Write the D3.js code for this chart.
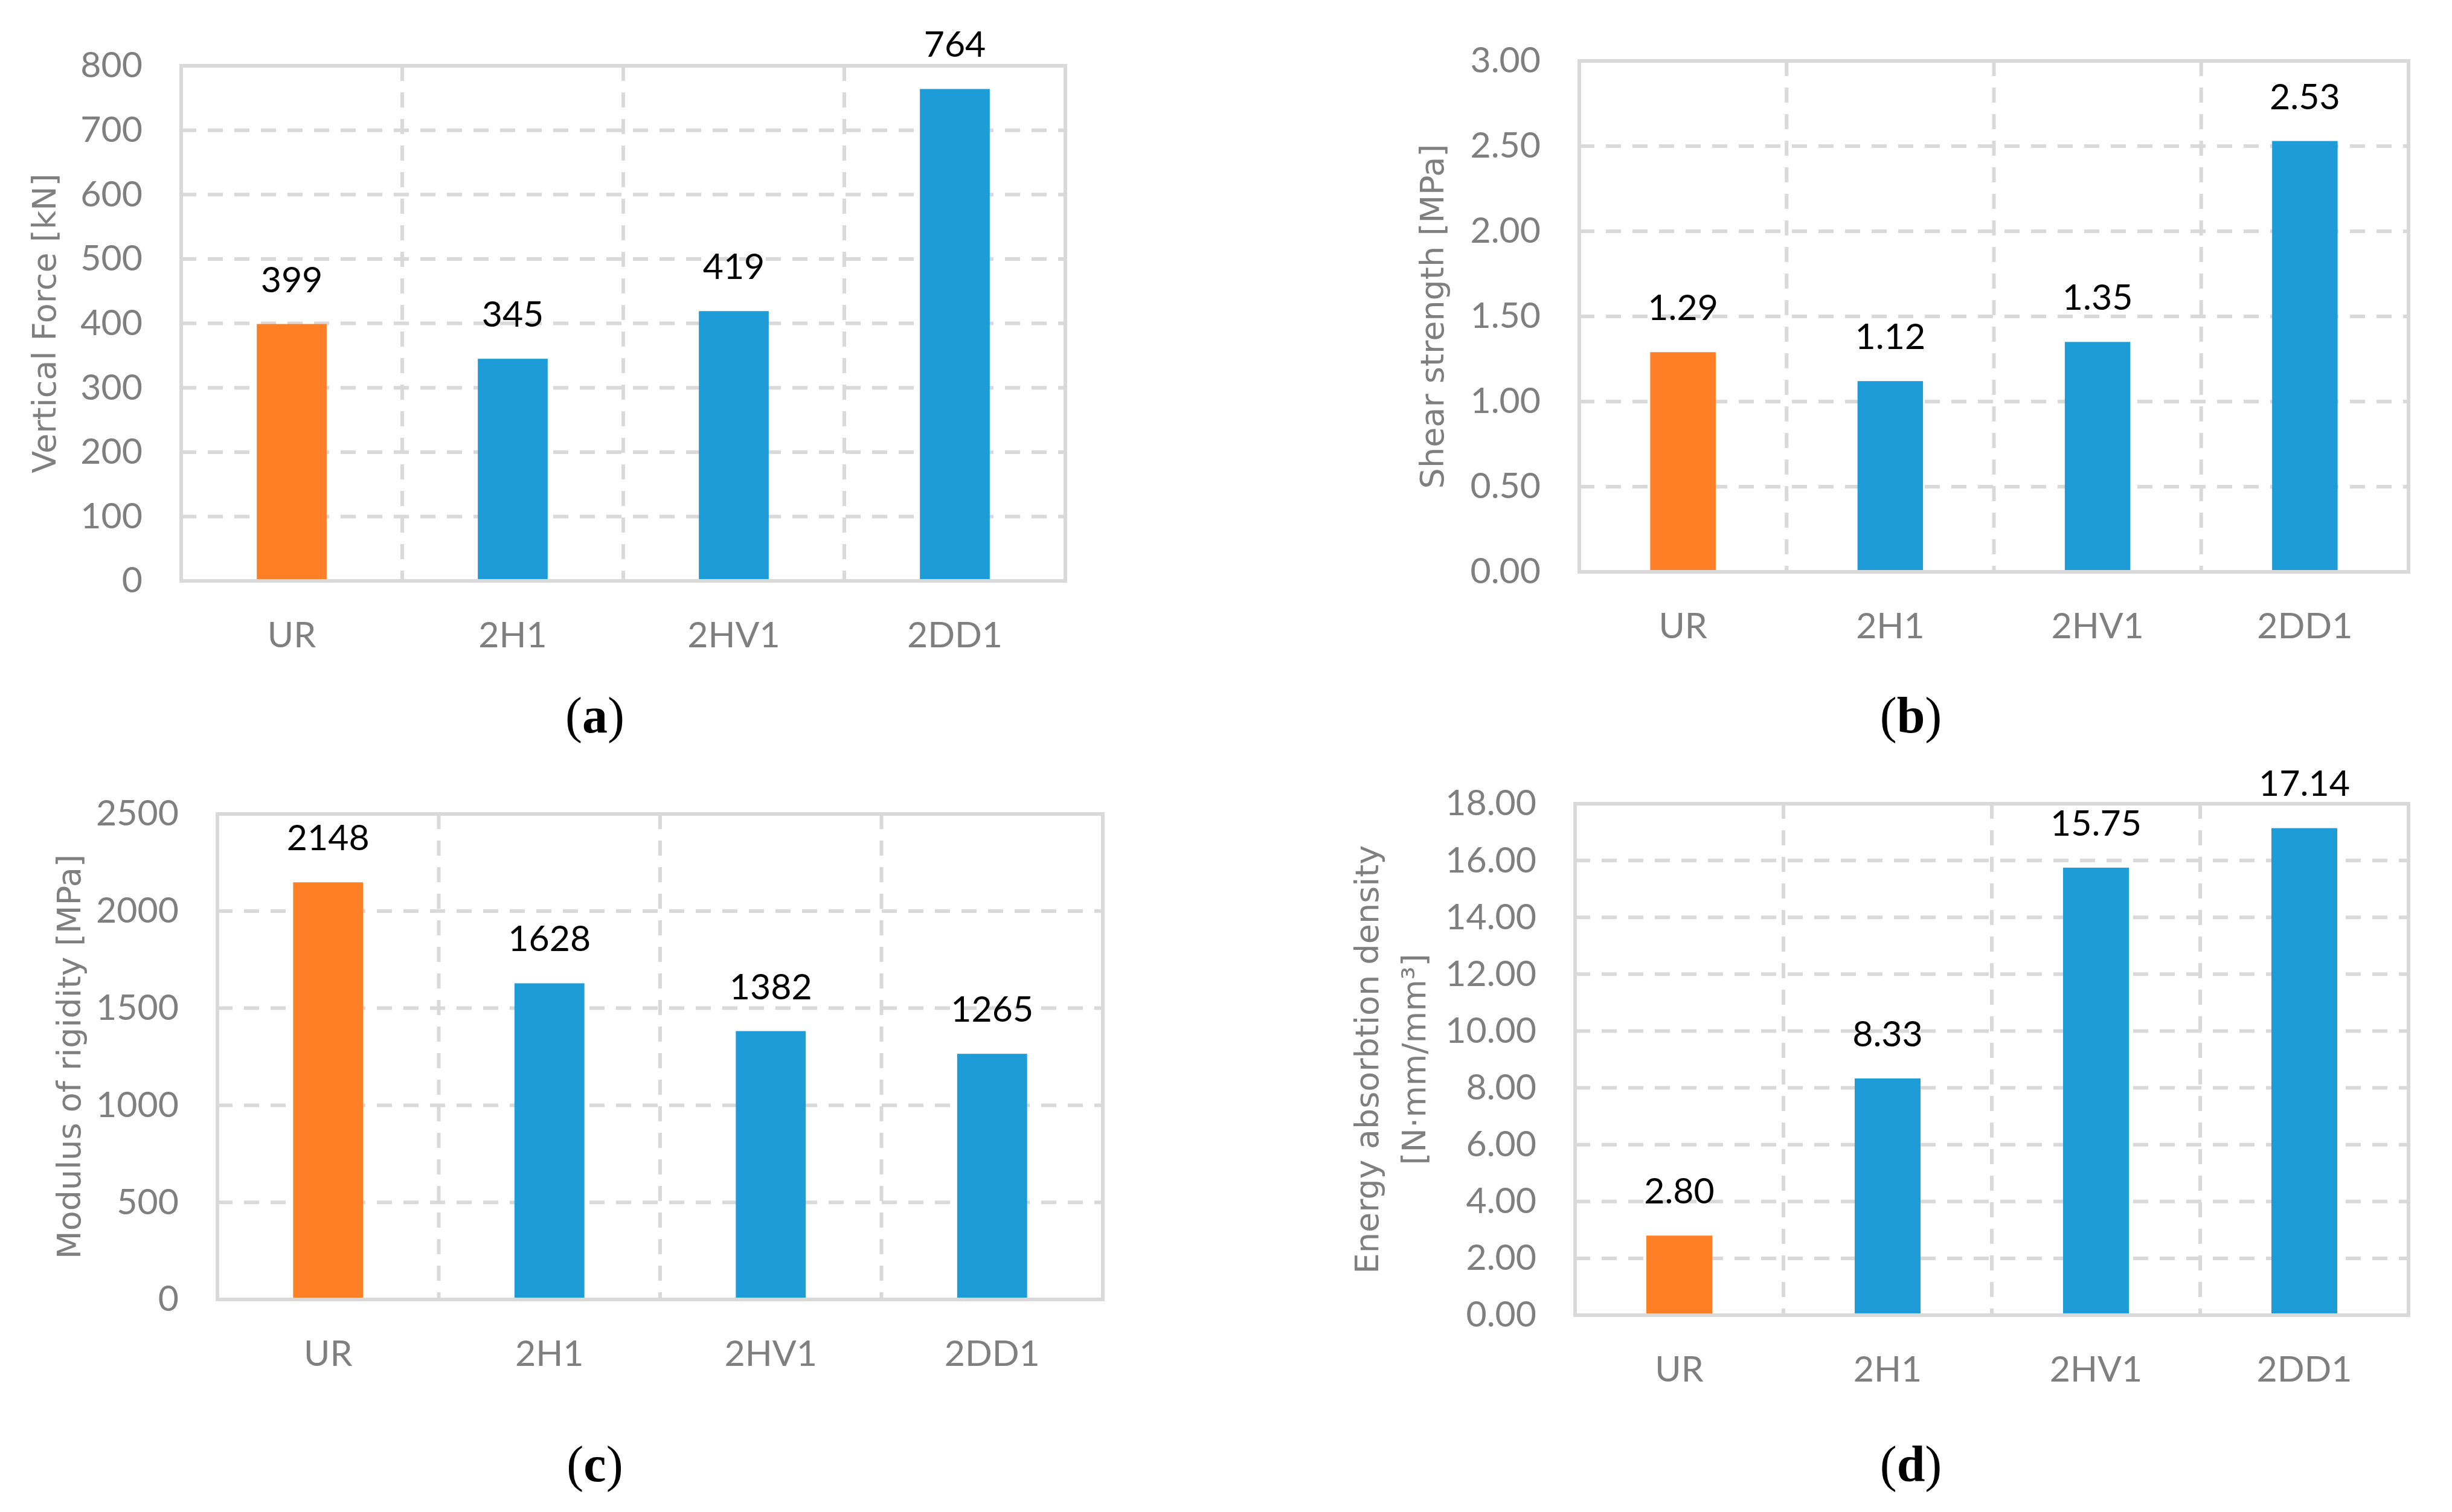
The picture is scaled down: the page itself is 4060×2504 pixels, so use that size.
<!DOCTYPE html>
<html><head><meta charset="utf-8">
<script src="https://cdn.jsdelivr.net/npm/d3@7"></script>
<style>body{margin:0;background:#fff}</style>
</head><body>
<svg id="chart" width="4060" height="2504"></svg>
<script>
// ---- data ----
const categories = ["UR", "2H1", "2HV1", "2DD1"];
const verticalForce = [399, 345, 419, 764];
const shearStrength = [1.29, 1.12, 1.35, 2.53];
const modulusRigidity = [2148, 1628, 1382, 1265];
const energyDensity = [2.80, 8.33, 15.75, 17.14];
const ticksA = [0, 100, 200, 300, 400, 500, 600, 700, 800];
const ticksB = [0, 0.5, 1.0, 1.5, 2.0, 2.5, 3.0];
const ticksC = [0, 500, 1000, 1500, 2000, 2500];
const ticksD = [0, 2, 4, 6, 8, 10, 12, 14, 16, 18];
const titleA = ["Vertical Force [kN]"];
const titleB = ["Shear strength [MPa]"];
const titleC = ["Modulus of rigidity [MPa]"];
const titleD = ["Energy absorbtion density", "[N\u00B7mm/mm\u00B3]"];
const panelLetters = ["a", "b", "c", "d"];

// ---- style ----
const ORANGE = "#FF7F27", BLUE = "#1E9CD7", GRID = "#D9D9D9", TXT = "#7F7F7F";
const TICKFONT = "Lato, 'Open Sans', sans-serif";
const TITLEFONT = "'DejaVu Sans', Verdana, sans-serif";
const LABELFONT = "'Liberation Serif', 'DejaVu Serif', serif";

const svg = d3.select("#chart");
svg.append("rect").attr("width", 4060).attr("height", 2504).attr("fill", "#fff");

const panels = [
  {values: verticalForce, ticks: ticksA, title: titleA, fmt: d3.format("d"), letter: panelLetters[0],
   left: 300, right: 1764, top: 109, bottom: 962, titleX: [73], subX: 985, subY: 1213},
  {values: shearStrength, ticks: ticksB, title: titleB, fmt: d3.format(".2f"), letter: panelLetters[1],
   left: 2615, right: 3988, top: 101, bottom: 947, titleX: [2371], subX: 3164, subY: 1213},
  {values: modulusRigidity, ticks: ticksC, title: titleC, fmt: d3.format("d"), letter: panelLetters[2],
   left: 360, right: 1826, top: 1348, bottom: 2152, titleX: [114], subX: 985, subY: 2453},
  {values: energyDensity, ticks: ticksD, title: titleD, fmt: d3.format(".2f"), letter: panelLetters[3],
   left: 2608, right: 3988, top: 1331, bottom: 2178, titleX: [2263, 2341], subX: 3164, subY: 2453}
];

panels.forEach(p => {
  const g = svg.append("g");
  const x = d3.scaleBand().domain(categories).range([p.left, p.right]).padding(0);
  const xb = d3.scaleBand().domain(categories).range([p.left, p.right]).paddingInner(0.684).paddingOuter(0.342);
  const y = d3.scaleLinear().domain([p.ticks[0], p.ticks[p.ticks.length - 1]]).range([p.bottom, p.top]);

  // horizontal gridlines
  g.append("g").selectAll("line").data(p.ticks.slice(1)).join("line")
    .attr("x1", p.left).attr("x2", p.right)
    .attr("y1", d => y(d)).attr("y2", d => y(d))
    .attr("stroke", GRID).attr("stroke-width", 6).attr("stroke-dasharray", "25,19");
  // vertical gridlines
  g.append("g").selectAll("line").data(categories.slice(1)).join("line")
    .attr("x1", d => x(d)).attr("x2", d => x(d))
    .attr("y1", p.top).attr("y2", p.bottom)
    .attr("stroke", GRID).attr("stroke-width", 6).attr("stroke-dasharray", "25,19");

  // bars
  g.append("g").selectAll("rect").data(p.values).join("rect")
    .attr("x", (d, i) => xb(categories[i]))
    .attr("width", xb.bandwidth())
    .attr("y", d => y(d))
    .attr("height", d => y(p.ticks[0]) - y(d))
    .attr("fill", (d, i) => i === 0 ? ORANGE : BLUE);

  // border
  g.append("rect").attr("x", p.left).attr("y", p.top)
    .attr("width", p.right - p.left).attr("height", p.bottom - p.top)
    .attr("fill", "none").attr("stroke", GRID).attr("stroke-width", 6);

  // data labels
  g.append("g").selectAll("text").data(p.values).join("text")
    .attr("x", (d, i) => x(categories[i]) + x.bandwidth() / 2)
    .attr("y", d => y(d) - 53)
    .attr("text-anchor", "middle")
    .style("font-family", TICKFONT).style("font-size", "59px").attr("fill", "#000")
    .text(d => p.fmt(d));

  // y axis
  const ya = g.append("g").attr("transform", `translate(${p.left},0)`)
    .call(d3.axisLeft(y).tickValues(p.ticks).tickFormat(p.fmt).tickSize(0).tickPadding(64));
  ya.select(".domain").remove();
  ya.selectAll("text").style("font-family", TICKFONT).style("font-size", "59px").attr("fill", TXT);

  // x axis
  const xa = g.append("g").attr("transform", `translate(0,${p.bottom})`)
    .call(d3.axisBottom(x).tickSize(0).tickPadding(68));
  xa.select(".domain").remove();
  xa.selectAll("text").style("font-family", TICKFONT).style("font-size", "59px").attr("fill", TXT);

  // y title
  const cy = (p.top + p.bottom) / 2;
  p.title.forEach((t, i) => {
    g.append("text")
      .attr("transform", `translate(${p.titleX[i]},${cy}) rotate(-90)`)
      .attr("text-anchor", "middle").attr("dy", "0.35em")
      .style("font-family", TITLEFONT).style("font-size", "54px").attr("fill", TXT)
      .text(t);
  });

  // panel letter
  const lt = g.append("text").attr("x", p.subX).attr("y", p.subY)
    .attr("text-anchor", "middle")
    .style("font-family", LABELFONT).style("font-size", "84px").attr("fill", "#000");
  lt.append("tspan").text("(");
  lt.append("tspan").style("font-weight", "bold").text(p.letter);
  lt.append("tspan").text(")");
});
</script>
</body></html>
